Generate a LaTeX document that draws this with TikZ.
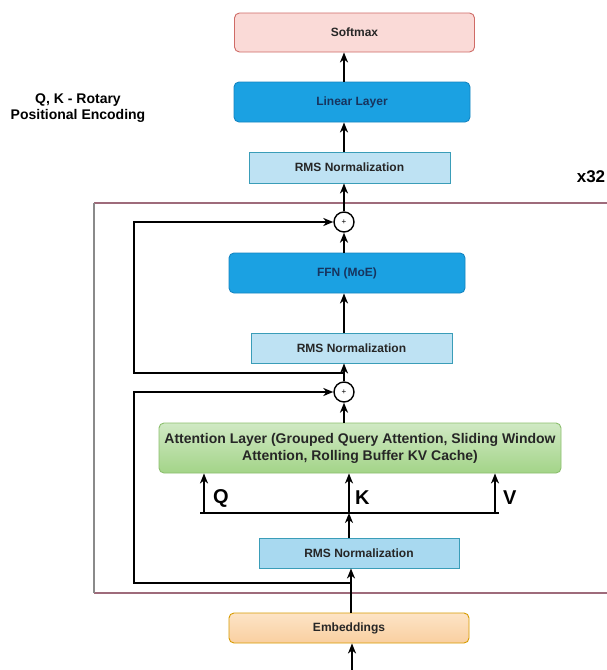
\documentclass[tikz,border=0pt]{standalone}
\usepackage{fontspec}
\setmainfont{Liberation Sans}
\usetikzlibrary{arrows.meta}
\definecolor{smfill}{HTML}{FADAD7}
\definecolor{smdraw}{HTML}{CF6B66}
\definecolor{blfill}{HTML}{1BA1E2}
\definecolor{bldraw}{HTML}{1585C2}
\definecolor{bltext}{HTML}{17345E}
\definecolor{rmfill}{HTML}{BEE2F3}
\definecolor{rmfillb}{HTML}{A8D9F0}
\definecolor{rmdraw}{HTML}{3A9DB8}
\definecolor{grtop}{HTML}{D0E9C4}
\definecolor{grbot}{HTML}{A3D488}
\definecolor{grdraw}{HTML}{8CBF6E}
\definecolor{ortop}{HTML}{FDE4C6}
\definecolor{orbot}{HTML}{F9CFA0}
\definecolor{ordraw}{HTML}{D79B00}
\definecolor{frametop}{HTML}{9E6B7B}
\definecolor{frameleft}{HTML}{8A8A8A}
\tikzset{
  boxtext/.style={font=\fontsize{12}{14}\selectfont\bfseries, text=black!85, inner sep=0pt},
  softbox/.style={boxtext, draw=smdraw, fill=smfill, line width=0.9pt, rounded corners=5pt},
  bluebox/.style={boxtext, draw=bldraw, fill=blfill, text=bltext, line width=0.9pt, rounded corners=5pt},
  rmsbox/.style={boxtext, draw=rmdraw, fill=rmfill, line width=0.9pt},
  rmsboxb/.style={boxtext, draw=rmdraw, fill=rmfillb, line width=0.9pt},
  attbox/.style={boxtext, font=\fontsize{14}{17}\selectfont\bfseries, draw=grdraw, top color=grtop, bottom color=grbot, line width=0.9pt, rounded corners=5pt, align=center},
  embbox/.style={boxtext, draw=ordraw, top color=ortop, bottom color=orbot, line width=0.9pt, rounded corners=5pt},
  plusnode/.style={circle, draw=black, fill=white, line width=1.4pt, minimum size=20pt, inner sep=0pt, font=\fontsize{8}{8}\selectfont},
  conn/.style={line width=1.6pt, draw=black},
  arr/.style={conn, -{Stealth[length=10pt,width=8pt,inset=3pt]}},
  qkv/.style={font=\fontsize{20}{20}\selectfont\bfseries, inner sep=0pt},
  note/.style={font=\fontsize{14}{15.5}\selectfont\bfseries, align=center, inner sep=0pt}
}
\begin{document}
\begin{tikzpicture}[x=1pt,y=-1pt]
\useasboundingbox (0,0) rectangle (606,670);
\fill[white] (0,0) rectangle (606,670);

% repeated block frame
\draw[frametop, line width=1.5pt] (94,203) -- (620,203);
\draw[frametop, line width=1.5pt] (94,593) -- (620,593);
\draw[frameleft, line width=1.5pt] (94,203) -- (94,593);

% nodes
\node[softbox, minimum width=240pt, minimum height=39pt] (softmax) at (354.5,32.5) {Softmax};
\node[bluebox, minimum width=236pt, minimum height=40pt] (linear) at (352,102) {Linear Layer};
\node[rmsbox, minimum width=201pt, minimum height=31pt] (rms3) at (349.5,167.5) {RMS Normalization};
\node[plusnode] (plus2) at (344,222) {+};
\node[bluebox, minimum width=236pt, minimum height=40pt] (ffn) at (347,273) {FFN (MoE)};
\node[rmsbox, minimum width=201pt, minimum height=30pt] (rms2) at (351.5,348) {RMS Normalization};
\node[plusnode] (plus1) at (344,392) {+};
\node[attbox, minimum width=402pt, minimum height=50pt] (attn) at (360,448)
  {Attention Layer (Grouped Query Attention, Sliding Window\\Attention, Rolling Buffer KV Cache)};
\node[rmsboxb, minimum width=200pt, minimum height=30pt] (rms1) at (359,553) {RMS Normalization};
\node[embbox, minimum width=240pt, minimum height=30pt] (emb) at (349,628) {Embeddings};

\node[note] (rope) at (78,108) {Q, K - Rotary\\Positional Encoding};
\node[font=\fontsize{17}{17}\selectfont\bfseries, inner sep=0pt] (x32) at (591,177) {x32};

% coordinates
\coordinate (in) at (352,672);
\coordinate (mainx) at (344,0);
\coordinate (embx) at (351,0);
\coordinate (j1) at (351,583);
\coordinate (j2) at (344,373);
\coordinate (skipx) at (134,0);
\coordinate (busL) at (200,513);
\coordinate (busR) at (499,513);
\coordinate (qx) at (204,513);
\coordinate (kx) at (349,513);
\coordinate (vx) at (495,513);

% connectors
\draw[arr] (in) -- (in |- emb.south);
\draw[arr] (emb.north -| embx) -- (rms1.south -| embx);
\draw[arr] (j1) -- (j1 -| skipx) |- (plus1.west);
\draw[arr] (rms1.north -| kx) -- (kx);
\draw[conn] (busL) -- (busR);
\draw[arr] (qx) -- (qx |- attn.south);
\draw[arr] (kx) -- (kx |- attn.south);
\draw[arr] (vx) -- (vx |- attn.south);
\node[qkv, anchor=west] (qlab) at (213,498) {Q};
\node[qkv, anchor=west] (klab) at (355,498) {K};
\node[qkv, anchor=west] (vlab) at (503,498) {V};
\draw[arr] (attn.north -| mainx) -- (plus1.south);
\draw[arr] (plus1.north) -- (rms2.south -| mainx);
\draw[arr] (j2) -- (j2 -| skipx) |- (plus2.west);
\draw[arr] (rms2.north -| mainx) -- (ffn.south -| mainx);
\draw[arr] (ffn.north -| mainx) -- (plus2.south);
\draw[arr] (plus2.north) -- (rms3.south -| mainx);
\draw[arr] (rms3.north -| mainx) -- (linear.south -| mainx);
\draw[arr] (linear.north -| mainx) -- (softmax.south -| mainx);
\end{tikzpicture}
\end{document}
